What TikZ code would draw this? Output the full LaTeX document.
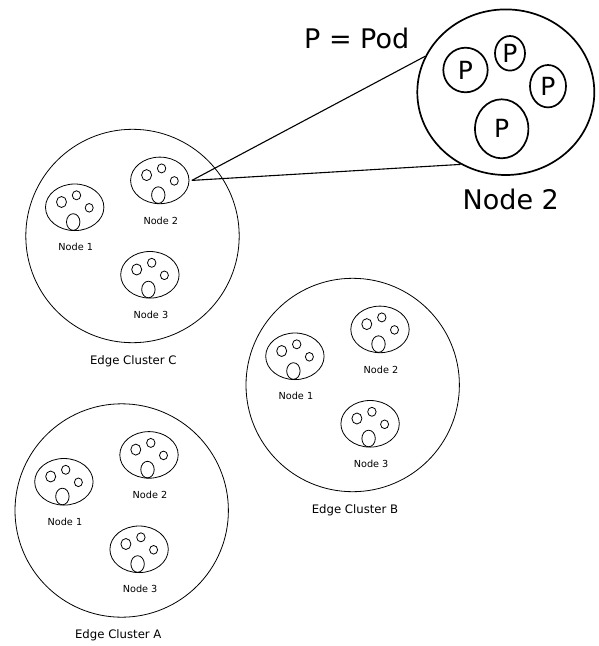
\documentclass[tikz,border=0pt]{standalone}
\usepackage{fontspec}
\setmainfont{DejaVu Sans}
\usetikzlibrary{shapes.geometric,calc}
\tikzset{
 cluster/.style={circle,draw,line width=0.8pt,minimum size=213.4pt,inner sep=0pt},
 worker/.style={ellipse,draw,line width=0.8pt,minimum width=58.4pt,minimum height=46.6pt,inner sep=0pt},
 cont/.style={ellipse,draw,line width=0.8pt,inner sep=0pt},
 nlabel/.style={font=\fontsize{9.7}{11}\selectfont,inner sep=0pt},
 clabel/.style={font=\fontsize{11.7}{13}\selectfont,inner sep=0pt},
 bigtext/.style={font=\fontsize{27}{30}\selectfont,inner sep=0pt},
 podbig/.style={ellipse,draw,line width=1.7pt,inner sep=0pt,font=\fontsize{25}{28}\selectfont},
 zoomline/.style={line width=1.1pt},
}
\newcommand\workernode[4]{%
 \begin{scope}[shift={(#2,#3)}]
 \node[worker] (#1) at (0,0) {};
 \node[cont,minimum width=10pt,minimum height=11pt] (#1a) at (-13.2,-5.3) {};
 \node[cont,minimum width=8.4pt,minimum height=9pt] (#1b) at (1.8,-12) {};
 \node[cont,minimum width=8pt,minimum height=8.6pt] (#1c) at (14.5,0.5) {};
 \node[cont,minimum width=13.4pt,minimum height=16.6pt] (#1d) at (-1.5,14.7) {};
 \node[nlabel] (#1t) at (1,40) {#4};
 \end{scope}}
\newcommand\edgecluster[5]{%
 \node[cluster] (#1) at (#2,#3) {};
 \workernode{#1n1}{#2-57.8}{#3-28.7}{Node 1}
 \workernode{#1n2}{#2+27.3}{#3-55.6}{Node 2}
 \workernode{#1n3}{#2+17.4}{#3+38.8}{Node 3}
 \node[clabel] (#1t) at (#2+#5,#3+125) {#4};}
\begin{document}
\begin{tikzpicture}[x=1pt,y=-1pt]
\useasboundingbox (0,0) rectangle (598,646);
\edgecluster{c}{132.5}{236}{Edge Cluster C}{0.8}
\edgecluster{b}{352.7}{385}{Edge Cluster B}{2.3}
\edgecluster{a}{121.7}{510.5}{Edge Cluster A}{-3.4}
\node[ellipse,draw,line width=1.7pt,minimum width=177pt,minimum height=165.6pt,inner sep=0pt] (big) at (505.8,92.2) {};
\node[podbig,minimum width=44.4pt,minimum height=44.6pt] (p1) at (465.5,70) {P};
\node[podbig,minimum width=30pt,minimum height=34.6pt] (p2) at (510,53.3) {P};
\node[podbig,minimum width=36pt,minimum height=42.4pt] (p3) at (548,86.2) {P};
\node[podbig,minimum width=53.4pt,minimum height=59pt] (p4) at (501.7,128.8) {P};
\node[bigtext] (legend) at (356.7,38) {P = Pod};
\node[bigtext] (bigl) at (510.8,199.2) {Node 2};
\coordinate (zs) at ($(cn2.east)+(2.5,0)$);
\draw[zoomline] (zs) -- (big.156.6);
\draw[zoomline] (zs) -- (big.238.8);
\end{tikzpicture}
\end{document}
